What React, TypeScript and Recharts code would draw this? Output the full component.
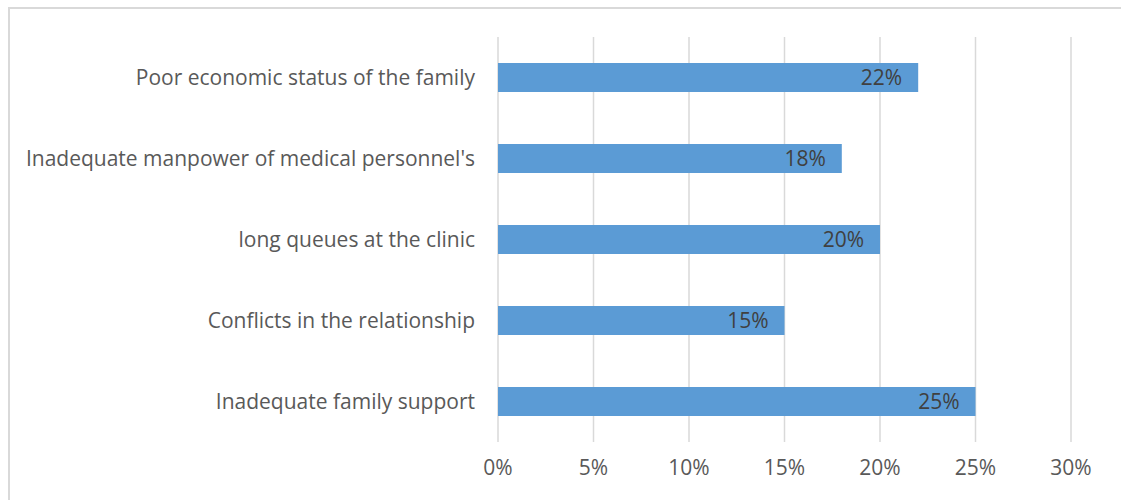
import { BarChart, Bar, XAxis, YAxis, CartesianGrid, LabelList } from 'recharts'

const causes = [
  'Poor economic status of the family',
  "Inadequate manpower of medical personnel's",
  'long queues at the clinic',
  'Conflicts in the relationship',
  'Inadequate family support',
]
const shares = [22, 18, 20, 15, 25]
const xTicks = [0, 5, 10, 15, 20, 25, 30]

const data = causes.map((cause, i) => ({ cause, share: shares[i] }))

const font = "'Open Sans', sans-serif"

const App = () => {
  return (
    <div style={{ position: 'fixed', left: 0, top: 0, width: 1121, height: 500, background: '#fff', overflow: 'hidden' }}>
      <div
        style={{
          position: 'absolute',
          left: 8,
          top: 7,
          width: 1200,
          height: 600,
          borderTop: '2px solid #d9d9d9',
          borderLeft: '2px solid #d9d9d9',
        }}
      />
      <BarChart
        width={1121}
        height={500}
        data={data}
        layout="vertical"
        margin={{ top: 37, right: 50, bottom: 28, left: 0 }}
        barSize={29}
        style={{ position: 'absolute', left: 0, top: 0, fontFamily: font }}
      >
        <CartesianGrid horizontal={false} stroke="#d9d9d9" strokeWidth={1.5} />
        <XAxis
          type="number"
          domain={[0, 30]}
          ticks={xTicks}
          tickFormatter={(v: number) => `${v}%`}
          axisLine={false}
          tickLine={false}
          tick={{ fill: '#595959', fontSize: 21 }}
          tickMargin={12}
          height={30}
          interval={0}
        />
        <YAxis
          type="category"
          dataKey="cause"
          width={498}
          axisLine={false}
          tickLine={false}
          tick={{ fill: '#595959', fontSize: 21 }}
          tickMargin={17}
        />
        <Bar dataKey="share" fill="#5b9bd5" isAnimationActive={false}>
          <LabelList
            dataKey="share"
            position="insideRight"
            offset={16}
            formatter={(v: number) => `${v}%`}
            fill="#404040"
            fontSize={21}
          />
        </Bar>
      </BarChart>
    </div>
  )
}

export default App
